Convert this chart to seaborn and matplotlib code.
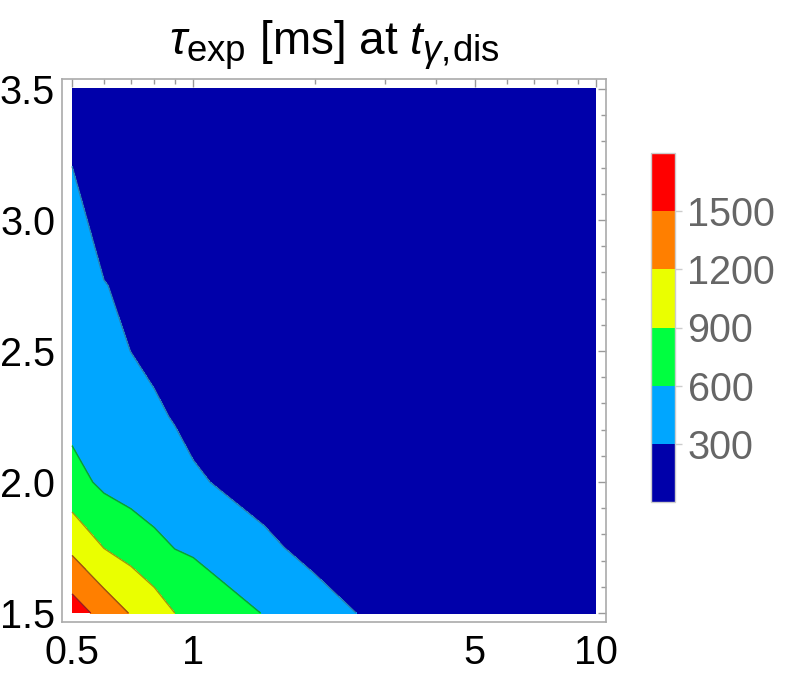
import numpy as np
import matplotlib
matplotlib.use("Agg")
import matplotlib.pyplot as plt
import matplotlib._mathtext as mathtext_internals
from matplotlib.ticker import FixedLocator, FixedFormatter, NullFormatter
import seaborn as sns

sns.set_style("white")
plt.rcParams['font.family'] = ['Liberation Sans', 'DejaVu Sans']
plt.rcParams['mathtext.fontset'] = 'custom'
plt.rcParams['mathtext.rm'] = 'Liberation Sans'
plt.rcParams['mathtext.it'] = 'Liberation Sans:italic'

#  Mathematica draws subscripts bigger than matplotlib does
mathtext_internals.SHRINK_FACTOR = 0.8

#
#  Grid of sample points and expansion time tau_exp [ms]
#

x_vals = [0.5, 0.6, 0.7, 0.8, 0.9, 1.0, 1.5, 2.0, 3.0, 5.0, 10.0]
y_vals = [1.5, 1.75, 2.0, 2.25, 2.5, 2.75, 3.0, 3.25, 3.5]

tau_y150 = [1650, 1382, 1179, 1040, 900, 844, 584, 405, 210, 120, 60]
tau_y175 = [1139, 894, 789, 684, 593, 556, 340, 230, 170, 100, 55]
tau_y200 = [700, 540, 470, 410, 360, 320, 220, 180, 130, 80, 40]
tau_y225 = [520, 460, 400, 322, 290, 260, 180, 140, 100, 60, 30]
tau_y250 = [450, 370, 298, 270, 245, 225, 160, 120, 85, 50, 25]
tau_y275 = [400, 305, 270, 245, 225, 205, 145, 110, 75, 45, 20]
tau_y300 = [345, 245, 230, 215, 200, 185, 130, 100, 70, 40, 20]
tau_y325 = [290, 240, 220, 200, 185, 170, 120, 90, 65, 35, 15]
tau_y350 = [270, 225, 205, 185, 170, 160, 110, 85, 60, 30, 15]

levels = [0, 300, 600, 900, 1200, 1500, 1800]
fill_colors = ['#0000aa', '#00a6ff', '#00ff40', '#eaff00', '#ff7f00', '#ff0000']
line_colors = ['#2a7fae', '#0a9a3a', '#9a9a10', '#9a5a10', '#9a2020']

tau = np.array([tau_y150, tau_y175, tau_y200, tau_y225, tau_y250,
                tau_y275, tau_y300, tau_y325, tau_y350])
X, Y = np.meshgrid(x_vals, y_vals)

#
#  Contour plot on a log x axis
#

fig = plt.figure(figsize=(7.89, 6.77), dpi=100)
ax = fig.add_axes([62/789, 1 - 622/677, 544/789, 543/677])
cax = fig.add_axes([651/789, 1 - 502/677, 24/789, 349/677])

cf = ax.contourf(X, Y, tau, levels=levels, colors=fill_colors)
ax.contour(X, Y, tau, levels=levels[1:-1], colors=line_colors, linewidths=1.0)

ax.set_xscale('log')
ax.set_xlim(0.472, 10.59)
ax.set_ylim(1.466, 3.538)

ax.xaxis.set_major_locator(FixedLocator([0.5, 1, 5, 10]))
ax.xaxis.set_major_formatter(FixedFormatter(['0.5', '1', '5', '10']))
ax.xaxis.set_minor_locator(FixedLocator([0.6, 0.7, 0.8, 0.9, 2, 3, 4, 6, 7, 8, 9]))
ax.xaxis.set_minor_formatter(NullFormatter())
ax.yaxis.set_major_locator(FixedLocator([1.5, 2.0, 2.5, 3.0, 3.5]))
ax.yaxis.set_major_formatter(FixedFormatter(['1.5', '2.0', '2.5', '3.0', '3.5']))
ax.yaxis.set_minor_locator(FixedLocator(np.arange(1.5, 3.55, 0.1)))

ax.tick_params(which='both', direction='in', top=True, right=True,
               color='#999999', width=1, labelsize=28.5, labelcolor='black')
ax.tick_params(which='major', length=6)
ax.tick_params(which='minor', length=3.5)
ax.tick_params(axis='x', which='major', pad=9)
ax.tick_params(axis='y', which='major', pad=5)
for sp in ax.spines.values():
    sp.set_color('#aaaaaa')
    sp.set_linewidth(1.2)

ax.set_title(r'$\tau_{\rm exp}$ [ms] at $t_{\gamma,\!\mathrm{dis}}$',
             fontsize=33, pad=18, color='black')

#
#  Colour bar
#

cb = fig.colorbar(cf, cax=cax, ticks=levels[1:-1])
cb.outline.set_edgecolor('#cccccc')
cb.outline.set_linewidth(1)
cax.tick_params(direction='out', length=5, width=1, color='#cccccc',
                labelsize=28.5, labelcolor='#666666', pad=4)
cb.ax.set_yticklabels([str(v) for v in levels[1:-1]])

fig.savefig('out.png', dpi=100)
